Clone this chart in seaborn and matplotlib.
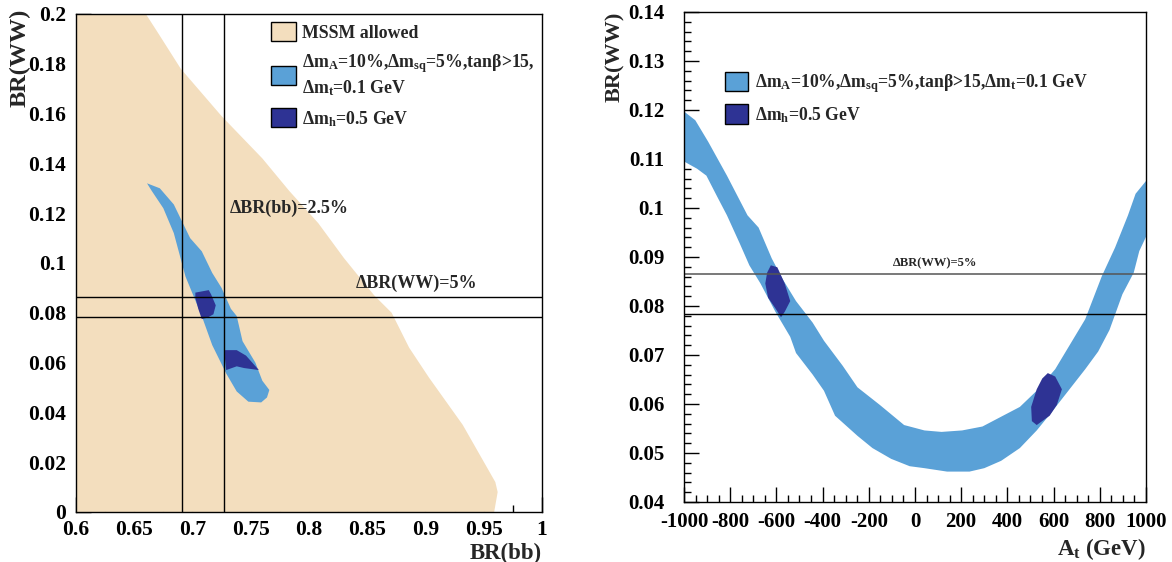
import numpy as np
import matplotlib
matplotlib.use("Agg")
import matplotlib.pyplot as plt
import seaborn as sns
from matplotlib.patches import Patch
from matplotlib.ticker import MultipleLocator, FuncFormatter

# ---- data ----
# left panel: BR(bb) vs BR(WW)
mssm_bb = [0.6, 0.959, 0.962, 0.960, 0.932, 0.903, 0.886, 0.871, 0.856, 0.830,
           0.808, 0.783, 0.760, 0.725, 0.690, 0.671, 0.660, 0.6]
mssm_ww = [0.0, 0.0, 0.008, 0.012, 0.035, 0.054, 0.066, 0.080, 0.087, 0.102,
           0.116, 0.129, 0.142, 0.159, 0.178, 0.192, 0.2, 0.2]

band_bb = [0.661, 0.672, 0.684, 0.698, 0.708, 0.717, 0.725, 0.733, 0.738, 0.743,
           0.754, 0.760, 0.766, 0.764, 0.759, 0.748, 0.738, 0.729, 0.717, 0.708,
           0.694, 0.684, 0.675, 0.665]
band_ww = [0.132, 0.130, 0.1235, 0.110, 0.1047, 0.096, 0.090, 0.0816, 0.0787, 0.0686,
           0.060, 0.0527, 0.049, 0.046, 0.044, 0.0443, 0.0484, 0.0556, 0.067, 0.0787,
           0.0946, 0.112, 0.122, 0.129]

mh1_bb = [0.7025, 0.714, 0.716, 0.720, 0.718, 0.7127, 0.708, 0.705, 0.7025]
mh1_ww = [0.0881, 0.0891, 0.0874, 0.083, 0.0794, 0.078, 0.0775, 0.0816, 0.086]
mh2_bb = [0.728, 0.738, 0.746, 0.757, 0.7444, 0.738, 0.729, 0.728]
mh2_ww = [0.065, 0.065, 0.0628, 0.057, 0.0578, 0.0585, 0.057, 0.0614]

bb_cut = [0.6914, 0.7273]
ww_cut_left = [0.0865, 0.0783]

# right panel: A_t vs BR(WW)
at_upper = [-1000, -951, -895, -814, -725, -677, -620, -572, -515, -443, -394, -313,
            -249, -152, -47, 41, 115, 204, 292, 381, 454, 527, 607, 672, 737, 809,
            866, 922, 955, 1000]
ww_upper = [0.1197, 0.1179, 0.1135, 0.1066, 0.0985, 0.0960, 0.0897, 0.0854, 0.0810,
            0.0766, 0.0729, 0.0678, 0.0634, 0.0598, 0.0557, 0.0546, 0.0543, 0.0546,
            0.0554, 0.0576, 0.0594, 0.0627, 0.0671, 0.0722, 0.0773, 0.0861, 0.0919,
            0.0985, 0.1029, 0.1055]
at_lower = [1000, 971, 947, 898, 842, 793, 737, 664, 591, 527, 454, 373, 300, 236,
            139, 41, -23, -103, -184, -249, -346, -394, -443, -515, -540, -604, -669,
            -717, -758, -814, -855, -903, -943, -1000]
ww_lower = [0.0941, 0.0912, 0.0868, 0.0824, 0.0751, 0.0707, 0.0671, 0.0627, 0.0583,
            0.0546, 0.0510, 0.0484, 0.0469, 0.0462, 0.0462, 0.0469, 0.0473, 0.0488,
            0.0510, 0.0535, 0.0576, 0.0627, 0.0660, 0.0704, 0.0737, 0.0788, 0.0846,
            0.0883, 0.0927, 0.0985, 0.1022, 0.1066, 0.1080, 0.1095]

mhl_at = [-624, -596, -564, -540, -564, -580, -604, -636, -648, -640]
mhl_ww = [0.0883, 0.0879, 0.0846, 0.0810, 0.0788, 0.0777, 0.0795, 0.0817, 0.0846, 0.0868]
mhr_at = [575, 607, 636, 614, 583, 527, 506, 503, 527, 551]
mhr_ww = [0.0663, 0.0656, 0.0630, 0.0598, 0.0576, 0.0557, 0.0565, 0.0594, 0.0630, 0.0652]

ww_cut_right = [0.0866, 0.0783]

c_mssm = "#F3DEBE"
c_light = "#5AA1D7"
c_dark = "#2E3394"

label_mssm = "MSSM allowed"
label_band_left = "Δm$_{A}$=10%,Δm$_{sq}$=5%,tanβ>15,\nΔm$_{t}$=0.1 GeV"
label_band_right = "Δm$_{A}$=10%,Δm$_{sq}$=5%,tanβ>15,Δm$_{t}$=0.1 GeV"
label_mh = "Δm$_{h}$=0.5 GeV"

sns.set_theme(style="ticks")
plt.rcParams["font.family"] = ["Liberation Serif", "DejaVu Serif"]
plt.rcParams["font.weight"] = "bold"
plt.rcParams["mathtext.fontset"] = "custom"
plt.rcParams["mathtext.rm"] = "Liberation Serif:bold"
plt.rcParams["mathtext.it"] = "Liberation Serif:bold"
plt.rcParams["mathtext.bf"] = "Liberation Serif:bold"
plt.rcParams["mathtext.default"] = "rm"

fig = plt.figure(figsize=(11.72, 5.62), dpi=100)
ax1 = fig.add_axes([0.0648, 0.0890, 0.3976, 0.8861])
ax2 = fig.add_axes([0.5836, 0.1068, 0.3942, 0.8719])

fmt = FuncFormatter(lambda v, p: f"{v:g}")


def root_style(ax, size, xpad, ypad):
    for s in ax.spines.values():
        s.set_color("black")
        s.set_linewidth(1.0)
    ax.tick_params(which="both", direction="in", top=False, right=False,
                   labelsize=size, colors="black", width=1.0)
    ax.tick_params(which="major", length=11)
    ax.tick_params(which="minor", length=5)
    ax.tick_params(axis="x", which="major", pad=xpad)
    ax.tick_params(axis="y", which="major", pad=ypad)
    ax.xaxis.set_major_formatter(fmt)
    ax.yaxis.set_major_formatter(fmt)
    for lab in ax.get_xticklabels() + ax.get_yticklabels():
        lab.set_fontweight("bold")


# left panel
ax1.fill(mssm_bb, mssm_ww, color=c_mssm, lw=0)
ax1.fill(band_bb, band_ww, color=c_light, lw=0)
ax1.fill(mh1_bb, mh1_ww, color=c_dark, lw=0)
ax1.fill(mh2_bb, mh2_ww, color=c_dark, lw=0)
for v in bb_cut:
    ax1.axvline(v, color="black", lw=1.0)
for h in ww_cut_left:
    ax1.axhline(h, color="black", lw=1.0)
ax1.text(0.7316, 0.122, "ΔBR(bb)=2.5%", fontsize=13, fontweight="bold", va="center")
ax1.text(0.840, 0.0918, "ΔBR(WW)=5%", fontsize=13, fontweight="bold", va="center")
ax1.set_xlim(0.6, 1.0)
ax1.set_ylim(0, 0.2)
ax1.xaxis.set_major_locator(MultipleLocator(0.05))
ax1.xaxis.set_minor_locator(MultipleLocator(0.025))
ax1.yaxis.set_major_locator(MultipleLocator(0.02))
ax1.yaxis.set_minor_locator(MultipleLocator(0.004))
root_style(ax1, 15.5, 6, 7)
ax1.set_xlabel("BR(bb)", fontsize=16.5, fontweight="bold", loc="right")
ax1.set_ylabel("BR(WW)", fontsize=17.5, fontweight="bold", loc="top")
ax1.xaxis.set_label_coords(1.0, -0.062)
ax1.yaxis.set_label_coords(-0.098, 1.01)
h1 = [Patch(facecolor=c_mssm, edgecolor="black", lw=1.0, label=label_mssm),
      Patch(facecolor=c_light, edgecolor="black", lw=1.0, label=label_band_left),
      Patch(facecolor=c_dark, edgecolor="black", lw=1.0, label=label_mh)]
ax1.legend(handles=h1, loc="upper left", bbox_to_anchor=(0.395, 1.005), frameon=False,
           handlelength=1.4, handleheight=1.25, handletextpad=0.35,
           labelspacing=0.6, borderaxespad=0.2, prop={"weight": "bold", "size": 12.8})

# right panel
ax2.fill(at_upper + at_lower, ww_upper + ww_lower, color=c_light, lw=0)
ax2.fill(mhl_at, mhl_ww, color=c_dark, lw=0)
ax2.fill(mhr_at, mhr_ww, color=c_dark, lw=0)
ax2.axhline(ww_cut_right[0], color="#555555", lw=1.1)
ax2.axhline(ww_cut_right[1], color="black", lw=1.0)
ax2.text(89, 0.0888, "ΔBR(WW)=5%", fontsize=9, fontweight="bold", ha="center", va="center")
ax2.set_xlim(-1000, 1000)
ax2.set_ylim(0.04, 0.14)
ax2.xaxis.set_major_locator(MultipleLocator(200))
ax2.xaxis.set_minor_locator(MultipleLocator(50))
ax2.yaxis.set_major_locator(MultipleLocator(0.01))
ax2.yaxis.set_minor_locator(MultipleLocator(0.002))
root_style(ax2, 15, 7, 14)
ax2.set_xlabel("A$_{t}$ (GeV)", fontsize=16.5, fontweight="bold", loc="right")
ax2.set_ylabel("BR(WW)", fontsize=16, fontweight="bold", loc="top")
ax2.xaxis.set_label_coords(1.0, -0.07)
ax2.yaxis.set_label_coords(-0.127, 1.0)
h2 = [Patch(facecolor=c_light, edgecolor="black", lw=1.0, label=label_band_right),
      Patch(facecolor=c_dark, edgecolor="black", lw=1.0, label=label_mh)]
ax2.legend(handles=h2, loc="upper left", bbox_to_anchor=(0.065, 0.9), frameon=False,
           handlelength=1.35, handleheight=1.3, handletextpad=0.35,
           labelspacing=0.55, borderaxespad=0.2, prop={"weight": "bold", "size": 12.7})

fig.savefig("out.png", dpi=100)
